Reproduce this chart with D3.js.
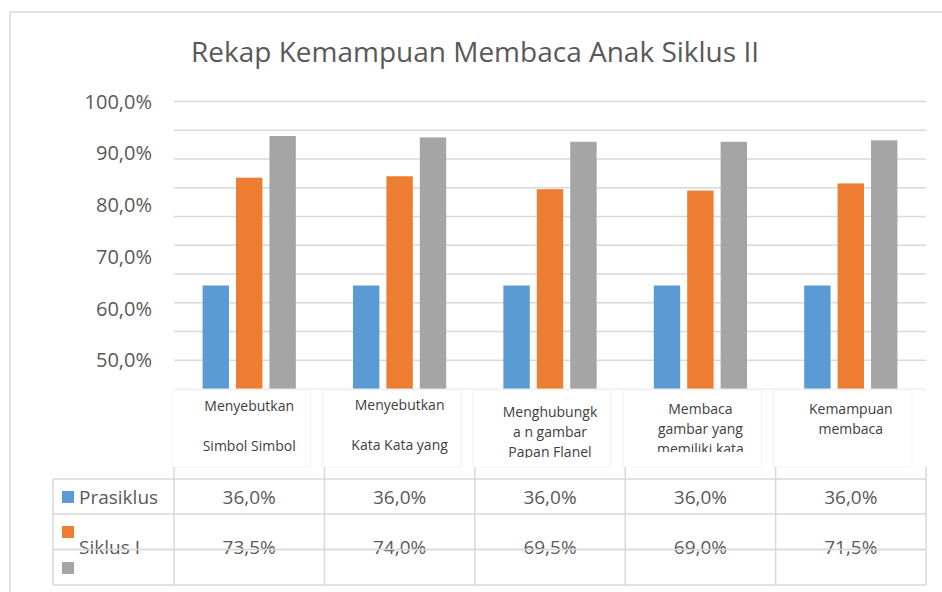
<!DOCTYPE html>
<html>
<head>
<meta charset="utf-8">
<script src="https://cdn.jsdelivr.net/npm/d3@7/dist/d3.min.js"></script>
<style>
  body { margin: 0; background: #fff; }
  svg text { font-family: "Open Sans", sans-serif; fill: #595959; }
</style>
</head>
<body>
<div id="grafica"></div>
<script>
// data
var title = "Rekap Kemampuan Membaca Anak Siklus II";
var categories = ["Menyebutkan Simbol Simbol", "Menyebutkan Kata Kata yang", "Menghubungkan gambar Papan Flanel", "Membaca gambar yang memiliki kata", "Kemampuan membaca"];
var categoryLines = [
  ["Menyebutkan", "", "Simbol Simbol"],
  ["Menyebutkan", "", "Kata Kata yang"],
  ["Menghubungk", "a  n gambar", "Papan Flanel"],
  ["Membaca", "gambar yang", "memiliki kata"],
  ["Kemampuan", "membaca"]
];
var seriesNames = ["Prasiklus", "Siklus I", ""];
var prasiklus = [0.36, 0.36, 0.36, 0.36, 0.36];
var siklus1 = [0.735, 0.74, 0.695, 0.69, 0.715];
var siklus2 = [0.88, 0.875, 0.86, 0.86, 0.865];
var yTickLabels = [1.0, 0.9, 0.8, 0.7, 0.6, 0.5];
var colors = ["#5b9bd5", "#ed7d31", "#a5a5a5"];

var series = [prasiklus, siklus1, siklus2];
var fmt = function(v) { return d3.format(".1f")(v * 100).replace(".", ",") + "%"; };

var width = 942, height = 592;
var svg = d3.select("#grafica").append("svg")
  .attr("width", width).attr("height", height);

// chart frame
svg.append("rect")
  .attr("x", 10).attr("y", 12)
  .attr("width", 960).attr("height", 620)
  .attr("fill", "none").attr("stroke", "#d9d9d9").attr("stroke-width", 1.5);

svg.append("text")
  .attr("x", 475).attr("y", 62)
  .attr("text-anchor", "middle")
  .style("font-size", "28px")
  .text(title);

var x = d3.scaleBand()
  .domain(categories)
  .range([174, 926])
  .paddingInner(0.38)
  .paddingOuter(0.19);

var x1 = d3.scaleBand()
  .domain(d3.range(series.length))
  .range([0, x.bandwidth()])
  .paddingInner(0.21);

var y = d3.scaleLinear().domain([0, 1]).range([389, 101.5]);

// gridlines
svg.append("g")
  .selectAll("line")
  .data(d3.range(0.1, 1.01, 0.1))
  .enter().append("line")
    .attr("x1", 174).attr("x2", 926)
    .attr("y1", function(d) { return y(d); })
    .attr("y2", function(d) { return y(d); })
    .attr("stroke", "#d9d9d9").attr("stroke-width", 1.5);

// tick labels (spaced as in the picture)
var yLabel = d3.scaleLinear().domain([0.5, 1]).range([y(0.1), y(1)]);
svg.append("g")
  .selectAll("text")
  .data(yTickLabels)
  .enter().append("text")
    .attr("x", 152)
    .attr("y", function(d) { return yLabel(d); })
    .attr("dy", "0.35em")
    .attr("text-anchor", "end")
    .style("font-size", "20px")
    .text(function(d) { return fmt(d); });

// bars
var groups = svg.append("g")
  .selectAll("g")
  .data(categories)
  .enter().append("g")
    .attr("transform", function(d) { return "translate(" + x(d) + ",0)"; });

groups.selectAll("rect")
  .data(function(d, i) { return series.map(function(s, j) { return {k: j, v: s[i]}; }); })
  .enter().append("rect")
    .attr("x", function(d) { return x1(d.k); })
    .attr("width", x1.bandwidth())
    .attr("y", function(d) { return y(d.v); })
    .attr("height", function(d) { return y(0) - y(d.v); })
    .attr("fill", function(d) { return colors[d.k]; });

// axis line
svg.append("line")
  .attr("x1", 174).attr("x2", 926)
  .attr("y1", y(0)).attr("y2", y(0))
  .attr("stroke", "#e6e6e6").attr("stroke-width", 1.2);

// data table
var half = (x.step() - x.bandwidth()) / 2;
var colStart = function(c) { return x(c) - half; };
var rowY = [479, 514, 549.5, 585];
var headTop = 390, headBottom = 467;
var tbl = svg.append("g");

// header cells with category names
var defs = svg.append("defs");
var lineStart = [411, 410, 417, 414, 414];
var clipBottom = [462, 462, 458, 452, 462];
categories.forEach(function(c, i) {
  var x0 = colStart(c);
  defs.append("clipPath").attr("id", "clip" + i)
    .append("rect").attr("x", x0).attr("y", headTop)
    .attr("width", x.step()).attr("height", clipBottom[i] - headTop);
  tbl.append("rect")
    .attr("x", x0 - 2).attr("y", headTop)
    .attr("width", x.step() - 12).attr("height", headBottom - headTop)
    .attr("fill", "#fff").attr("stroke", "#f3f3f3");
  var t = tbl.append("text")
    .attr("clip-path", "url(#clip" + i + ")")
    .attr("text-anchor", "middle")
    .style("font-size", "14px")
    .style("fill", "#404040");
  categoryLines[i].forEach(function(l, k) {
    t.append("tspan")
      .attr("x", x0 + x.step() / 2)
      .attr("y", lineStart[i] + k * 20)
      .text(l);
  });
});

// horizontal table lines
rowY.forEach(function(ry) {
  tbl.append("line")
    .attr("x1", 53).attr("x2", 926)
    .attr("y1", ry).attr("y2", ry)
    .attr("stroke", "#d9d9d9").attr("stroke-width", 1.5);
});
// vertical table lines
tbl.append("line")
  .attr("x1", 53).attr("x2", 53)
  .attr("y1", rowY[0]).attr("y2", rowY[3])
  .attr("stroke", "#d9d9d9").attr("stroke-width", 1.5);
categories.forEach(function(c) {
  tbl.append("line")
    .attr("x1", colStart(c)).attr("x2", colStart(c))
    .attr("y1", headBottom).attr("y2", rowY[3])
    .attr("stroke", "#d9d9d9").attr("stroke-width", 1.5);
});
tbl.append("line")
  .attr("x1", 926).attr("x2", 926)
  .attr("y1", headBottom).attr("y2", rowY[3])
  .attr("stroke", "#d9d9d9").attr("stroke-width", 1.5);

// legend keys and names
var keyY = [491, 526, 562];
var nameY = [504, 554, 0];
seriesNames.forEach(function(n, j) {
  tbl.append("rect")
    .attr("x", 62).attr("y", keyY[j])
    .attr("width", 12).attr("height", 12)
    .attr("fill", colors[j]);
  if (n) {
    tbl.append("text")
      .attr("x", 79).attr("y", nameY[j])
      .style("font-size", "19px")
      .text(n);
  }
});

// values
[prasiklus, siklus1].forEach(function(s, j) {
  tbl.selectAll(null)
    .data(s)
    .enter().append("text")
      .attr("x", function(d, i) { return x(categories[i]) + x.bandwidth() / 2; })
      .attr("y", nameY[j])
      .attr("text-anchor", "middle")
      .style("font-size", "19px")
      .text(function(d) { return fmt(d); });
});
// table line drawn over the Siklus I values, as in the picture
tbl.append("line")
  .attr("x1", 53).attr("x2", 926)
  .attr("y1", rowY[2]).attr("y2", rowY[2])
  .attr("stroke", "#d9d9d9").attr("stroke-width", 1.5);
</script>
</body>
</html>
